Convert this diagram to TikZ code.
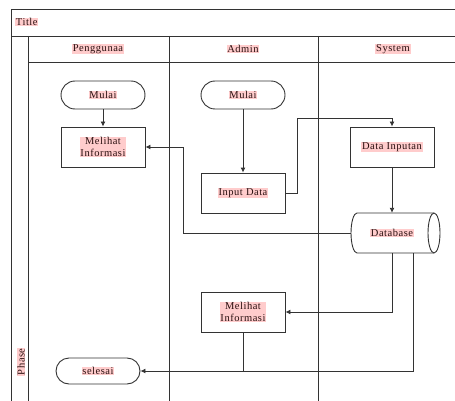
\documentclass[tikz,border=0pt]{standalone}
\usepackage{fontspec}
\setmainfont[LetterSpace=5]{Liberation Serif}
\usetikzlibrary{arrows.meta,calc}
\definecolor{lblpink}{HTML}{FFCCCC}
\definecolor{linegray}{HTML}{333333}
\definecolor{lbltext}{HTML}{2A1010}
\tikzset{
  frame/.style={draw=linegray, line width=0.9pt},
  lbl/.style={fill=lblpink, inner sep=0.8pt, font=\fontsize{10.5}{11.5}\selectfont, align=center, text=lbltext},
  box/.style={draw=linegray, line width=0.9pt, minimum width=84pt, minimum height=40pt, inner sep=0pt},
  term/.style={draw=linegray, line width=0.9pt, minimum width=84pt, minimum height=28pt, rounded corners=14pt, inner sep=0pt},
  holder/.style={minimum width=89pt, minimum height=40pt, inner sep=0pt},
  conn/.style={draw=linegray, line width=0.9pt},
  arr/.style={conn, -{Latex[length=5pt,width=5pt]}},
}
\begin{document}
\begin{tikzpicture}[x=1pt, y=-1pt]
  \useasboundingbox (0,0) rectangle (455,401);
  \clip (0,0) rectangle (455,401);
  \fill[white] (0,0) rectangle (455,401);

  % pool frame, title row, phase column and lanes
  \draw[frame] (470,9) -- (11,9) -- (11,410);
  \draw[frame] (11,36) -- (470,36);
  \draw[frame] (28,62) -- (470,62);
  \draw[frame] (28,36) -- (28,410);
  \draw[frame] (169,36) -- (169,410);
  \draw[frame] (318,36) -- (318,410);

  \node[lbl, anchor=west] (title) at (15,22) {Title};
  \node[lbl] (lane1) at (98,49) {Penggunaa};
  \node[lbl] (lane2) at (243,49) {Admin};
  \node[lbl] (lane3) at (393,49) {System};
  \node[lbl, rotate=90, anchor=west] (phase) at (21,376) {Phase};

  % flow nodes
  \node[term] (m1) at (103,95) {};
  \node[lbl] at (m1) {Mulai};
  \node[box] (mi1) at (103,147) {};
  \node[lbl] at (mi1) {Melihat\\Informasi};
  \node[term] (m2) at (243,95) {};
  \node[lbl] at (m2) {Mulai};
  \node[box] (in) at (243,193) {};
  \node[lbl] at (in) {Input Data};
  \node[box] (di) at (392,147) {};
  \node[lbl] at (di) {Data Inputan};
  \node[box] (mi2) at (243,312) {};
  \node[lbl] at (mi2) {Melihat\\Informasi};
  \node[term, minimum height=26pt, rounded corners=13pt] (sel) at (98,371) {};
  \node[lbl] at (sel) {selesai};

  % database drum lying on its side, open end to the right
  \node[holder] (db) at (395.5,233) {};
  \draw[frame] (357,213) -- (434,213)
    arc[start angle=-90, end angle=90, x radius=6, y radius=20]
    -- (357,253)
    arc[start angle=90, end angle=270, x radius=6, y radius=20];
  \draw[frame] (434,213) arc[start angle=-90, end angle=-270, x radius=6, y radius=20];
  \node[lbl] at (392,233) {Database};

  % bend points
  \coordinate (k1) at (297,118);
  \coordinate (k2) at (183,147);
  \coordinate (k3) at (392,0);
  \coordinate (k4) at (413,0);

  % connectors
  \draw[arr] (m1) -- (mi1);
  \draw[arr] (m2) -- (in);
  \draw[arr] (in.east) -| (k1) -| (di.north);
  \draw[arr] (di.south) -- (db.north -| di.south);
  \draw[arr] (db.west) -| (k2) -- (mi1.east);
  \draw[arr] (db.south -| k3) |- (mi2.east);
  \draw[conn] (mi2.south) -- (mi2.south |- sel.east);
  \draw[arr] (db.south -| k4) |- (sel.east);
\end{tikzpicture}
\end{document}
